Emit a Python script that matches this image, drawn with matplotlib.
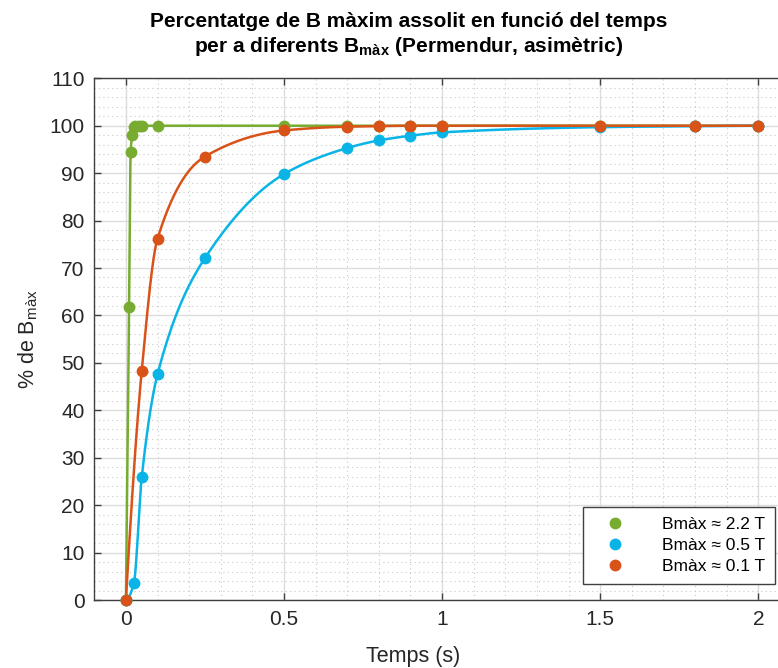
import numpy as np
import matplotlib
matplotlib.use("Agg")
import matplotlib.pyplot as plt
from matplotlib.lines import Line2D
from matplotlib.ticker import MultipleLocator

plt.rcParams['font.family'] = ['Liberation Sans', 'DejaVu Sans']
plt.rcParams['mathtext.fontset'] = 'custom'
plt.rcParams['mathtext.rm'] = 'Liberation Sans'
plt.rcParams['mathtext.bf'] = 'Liberation Sans:bold'

# data
t_green = [0, 0.01, 0.015, 0.02, 0.025, 0.03, 0.04, 0.05, 0.1, 0.5, 0.7, 0.8, 0.9, 1.0, 1.5, 1.8, 2.0]
b_green = [0, 61.7, 94.5, 98.1, 99.7, 99.9, 100, 100, 100, 100, 100, 100, 100, 100, 100, 100, 100]

t_blue = [0, 0.025, 0.05, 0.1, 0.25, 0.5, 0.7, 0.8, 0.9, 1.0, 1.5, 1.8, 2.0]
b_blue = [0, 3.5, 25.9, 47.6, 72.1, 89.8, 95.3, 96.9, 97.9, 98.6, 99.7, 99.9, 100]

t_red = [0, 0.05, 0.1, 0.25, 0.5, 0.7, 0.8, 0.9, 1.0, 1.5, 1.8, 2.0]
b_red = [0, 48.3, 76.2, 93.5, 99.0, 99.8, 99.9, 100, 100, 100, 100, 100]

labels = ['Bmàx ≈ 2.2 T', 'Bmàx ≈ 0.5 T', 'Bmàx ≈ 0.1 T']
colors = ['#77AC30', '#0AB4E6', '#D95319']


def pchip(x, y, xs):
  # shape preserving cubic through the measured points (display only)
  x = np.asarray(x, float); y = np.asarray(y, float)
  h = np.diff(x); d = np.diff(y) / h
  n = len(x)
  m = np.zeros(n)
  for k in range(1, n - 1):
    if d[k-1] * d[k] > 0:
      w1 = 2*h[k] + h[k-1]; w2 = h[k] + 2*h[k-1]
      m[k] = (w1 + w2) / (w1/d[k-1] + w2/d[k])
  def end(h0, h1, d0, d1):
    s = ((2*h0 + h1)*d0 - h0*d1) / (h0 + h1)
    if np.sign(s) != np.sign(d0):
      s = 0
    elif np.sign(d0) != np.sign(d1) and abs(s) > abs(3*d0):
      s = 3*d0
    return s
  m[0] = end(h[0], h[1], d[0], d[1])
  m[-1] = end(h[-1], h[-2], d[-1], d[-2])
  idx = np.clip(np.searchsorted(x, xs) - 1, 0, n - 2)
  hh = h[idx]; s = (xs - x[idx]) / hh
  h00 = 2*s**3 - 3*s**2 + 1; h10 = s**3 - 2*s**2 + s
  h01 = -2*s**3 + 3*s**2; h11 = s**3 - s**2
  return h00*y[idx] + h10*hh*m[idx] + h01*y[idx+1] + h11*hh*m[idx+1]


fig = plt.figure(figsize=(7.78, 6.68), dpi=100)
ax = fig.add_axes([94.3/778, 1 - 600/668, (789.9 - 94.3)/778, (600 - 78.3)/668])

series = [(t_green, b_green), (t_blue, b_blue), (t_red, b_red)]
for (t, b), c in zip(series, colors):
  ts = np.linspace(0, max(t), 4000)
  ax.plot(ts, pchip(t, b, ts), color=c, lw=1.8, zorder=3)
  ax.plot(t, b, 'o', color=c, ms=7.5, zorder=4, clip_on=False)

ax.set_xlim(-0.1, 2.1)
ax.set_ylim(0, 110)
ax.set_xticks([0, 0.5, 1, 1.5, 2])
ax.set_xticklabels(['0', '0.5', '1', '1.5', '2'])
ax.set_yticks(np.arange(0, 111, 10))
ax.xaxis.set_minor_locator(MultipleLocator(0.1))
ax.yaxis.set_minor_locator(MultipleLocator(2))
ax.grid(which='major', color='#DCDCDC', lw=1, ls='-', zorder=0)
ax.grid(which='minor', color='#C8C8C8', lw=0.8, ls=(0, (1, 3)), zorder=0)
ax.set_axisbelow(True)
ax.tick_params(which='major', direction='in', length=5, width=1, color='#404040',
               labelsize=15, top=True, right=True, labelcolor='#262626', pad=7)
ax.tick_params(which='minor', length=0)
for s in ax.spines.values():
  s.set_color('#404040')
  s.set_linewidth(1)

ax.set_xlabel('Temps (s)', fontsize=15.5, color='#262626')
ax.xaxis.set_label_coords((413 - 94.3)/695.6, -0.088)
ax.set_ylabel(r'% de B$_{\rm màx}$', fontsize=15.5, color='#262626')
ax.yaxis.set_label_coords(-0.078, 0.5)

ax.set_title('Percentatge de B màxim assolit en funció del temps\n'
             r'per a diferents B$_{\bf màx}$ (Permendur, asimètric)',
             fontsize=15, fontweight='bold', x=(409 - 94.3)/695.6, pad=19,
             linespacing=1.25)

handles = [Line2D([], [], marker='o', ls='none', color=c, ms=7.5) for c in colors]
leg = ax.legend(handles, labels, loc='upper left', bbox_to_anchor=(583/778, 1 - 507/668),
                bbox_transform=fig.transFigure, fontsize=12.5, fancybox=False,
                edgecolor='#404040', framealpha=1, handletextpad=1.4, borderpad=0.55,
                labelspacing=0.35, handlelength=2.6, borderaxespad=0)
leg.get_frame().set_linewidth(1)

fig.savefig('out.png', dpi=100)
